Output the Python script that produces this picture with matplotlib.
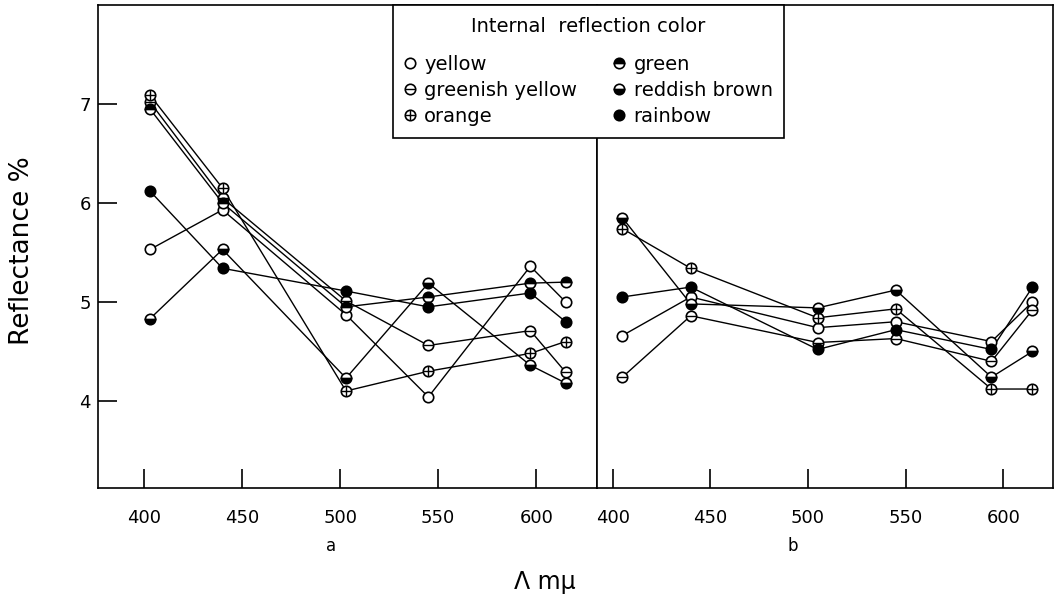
import matplotlib.pyplot as plt
from matplotlib.legend_handler import HandlerTuple

# wavelengths (m-mu) of the measured points, panel a and panel b
wl_a = [403, 440, 503, 545, 597, 615]
wl_b = [405, 440, 505, 545, 594, 615]

# reflectance %, panel a
yellow_a = [5.53, 5.93, 4.87, 4.04, 5.36, 5.00]
gr_yellow_a = [7.02, 6.05, 5.01, 4.56, 4.71, 4.29]
orange_a = [7.09, 6.15, 4.10, 4.30, 4.48, 4.60]
green_a = [6.95, 6.00, 4.95, 5.05, 5.19, 5.20]
red_brown_a = [4.83, 5.53, 4.23, 5.19, 4.36, 4.18]
rainbow_a = [6.12, 5.34, 5.11, 4.95, 5.09, 4.80]

# reflectance %, panel b
yellow_b = [4.66, 5.05, 4.74, 4.80, 4.60, 5.00]
gr_yellow_b = [4.24, 4.86, 4.59, 4.63, 4.40, 4.92]
orange_b = [5.74, 5.34, 4.84, 4.93, 4.12, 4.12]
red_brown_b = [5.85, 4.98, 4.94, 5.12, 4.24, 4.50]
rainbow_b = [5.05, 5.15, 4.52, 4.72, 4.52, 5.15]

names = ["yellow", "greenish yellow", "orange", "green", "reddish brown", "rainbow"]

MS = 7.5
MEW = 1.2


def marker_kw(name):
    kw = dict(marker="o", markersize=MS, markeredgecolor="k", markeredgewidth=MEW,
              linestyle="none")
    if name in ("yellow", "greenish yellow", "orange"):
        kw["markerfacecolor"] = "white"
    elif name == "green":
        kw.update(fillstyle="top", markerfacecolor="k", markerfacecoloralt="white")
    elif name == "reddish brown":
        kw.update(fillstyle="bottom", markerfacecolor="k", markerfacecoloralt="white")
    else:
        kw["markerfacecolor"] = "k"
    return kw


def overlay(name):
    if name == "greenish yellow":
        return "_"
    if name == "orange":
        return "+"
    return None


def draw(ax, x, y, name):
    ax.plot(x, y, "-", color="k", lw=1.0, zorder=2)
    h = ax.plot(x, y, zorder=3, **marker_kw(name))[0]
    o = overlay(name)
    if o:
        h2 = ax.plot(x, y, marker=o, linestyle="none", color="k", markersize=MS,
                     markeredgewidth=1.0, zorder=4)[0]
        return (h, h2)
    return (h,)


fig = plt.figure(figsize=(10.54, 6.04), dpi=100)
ax_a = fig.add_axes([98 / 1054, 116 / 604, 499 / 1054, 483 / 604])
ax_b = fig.add_axes([597 / 1054, 116 / 604, 456 / 1054, 483 / 604])

handles = {}
for nm, ys in zip(names, [yellow_a, gr_yellow_a, orange_a, green_a, red_brown_a, rainbow_a]):
    handles[nm] = draw(ax_a, wl_a, ys, nm)
for nm, ys in zip(["yellow", "greenish yellow", "orange", "reddish brown", "rainbow"],
                  [yellow_b, gr_yellow_b, orange_b, red_brown_b, rainbow_b]):
    draw(ax_b, wl_b, ys, nm)

ax_a.set_xlim(376.5, 631)
ax_b.set_xlim(392, 625.5)
for ax in (ax_a, ax_b):
    ax.set_ylim(3.12, 8.0)
    ax.set_xticks([400, 450, 500, 550, 600])
    ax.tick_params(axis="x", direction="in", length=14, width=1.2, pad=15, labelsize=13)
    for s in ax.spines.values():
        s.set_linewidth(1.2)
ax_a.set_yticks([4, 5, 6, 7])
ax_a.tick_params(axis="y", direction="in", length=14, width=1.2, pad=5, labelsize=13)
ax_b.set_yticks([])

fig.text(22 / 1054, 1 - 251 / 604, "Reflectance %", rotation=90, ha="center", va="center",
         fontsize=19)
fig.text(331 / 1054, 1 - 546 / 604, "a", ha="center", va="center", fontsize=12)
fig.text(793 / 1054, 1 - 546 / 604, "b", ha="center", va="center", fontsize=12)
fig.text(545 / 1054, 1 - 582 / 604, "Λ mμ", ha="center", va="center", fontsize=17)

leg = fig.legend([handles[n] for n in names], names, ncol=2,
                 title="Internal  reflection color", title_fontsize=14, fontsize=14,
                 loc="upper left", bbox_to_anchor=(393 / 1054, 1 - 5 / 604),
                 handler_map={tuple: HandlerTuple(ndivide=1)},
                 frameon=True, fancybox=False, edgecolor="k", framealpha=1,
                 handlelength=0.5, handletextpad=0.5, columnspacing=1.9,
                 labelspacing=0.36, borderpad=0.6, borderaxespad=0)
leg._legend_box.sep = 14  # extra room under the title
leg.get_frame().set_linewidth(1.2)

fig.savefig("out.png", dpi=100)
